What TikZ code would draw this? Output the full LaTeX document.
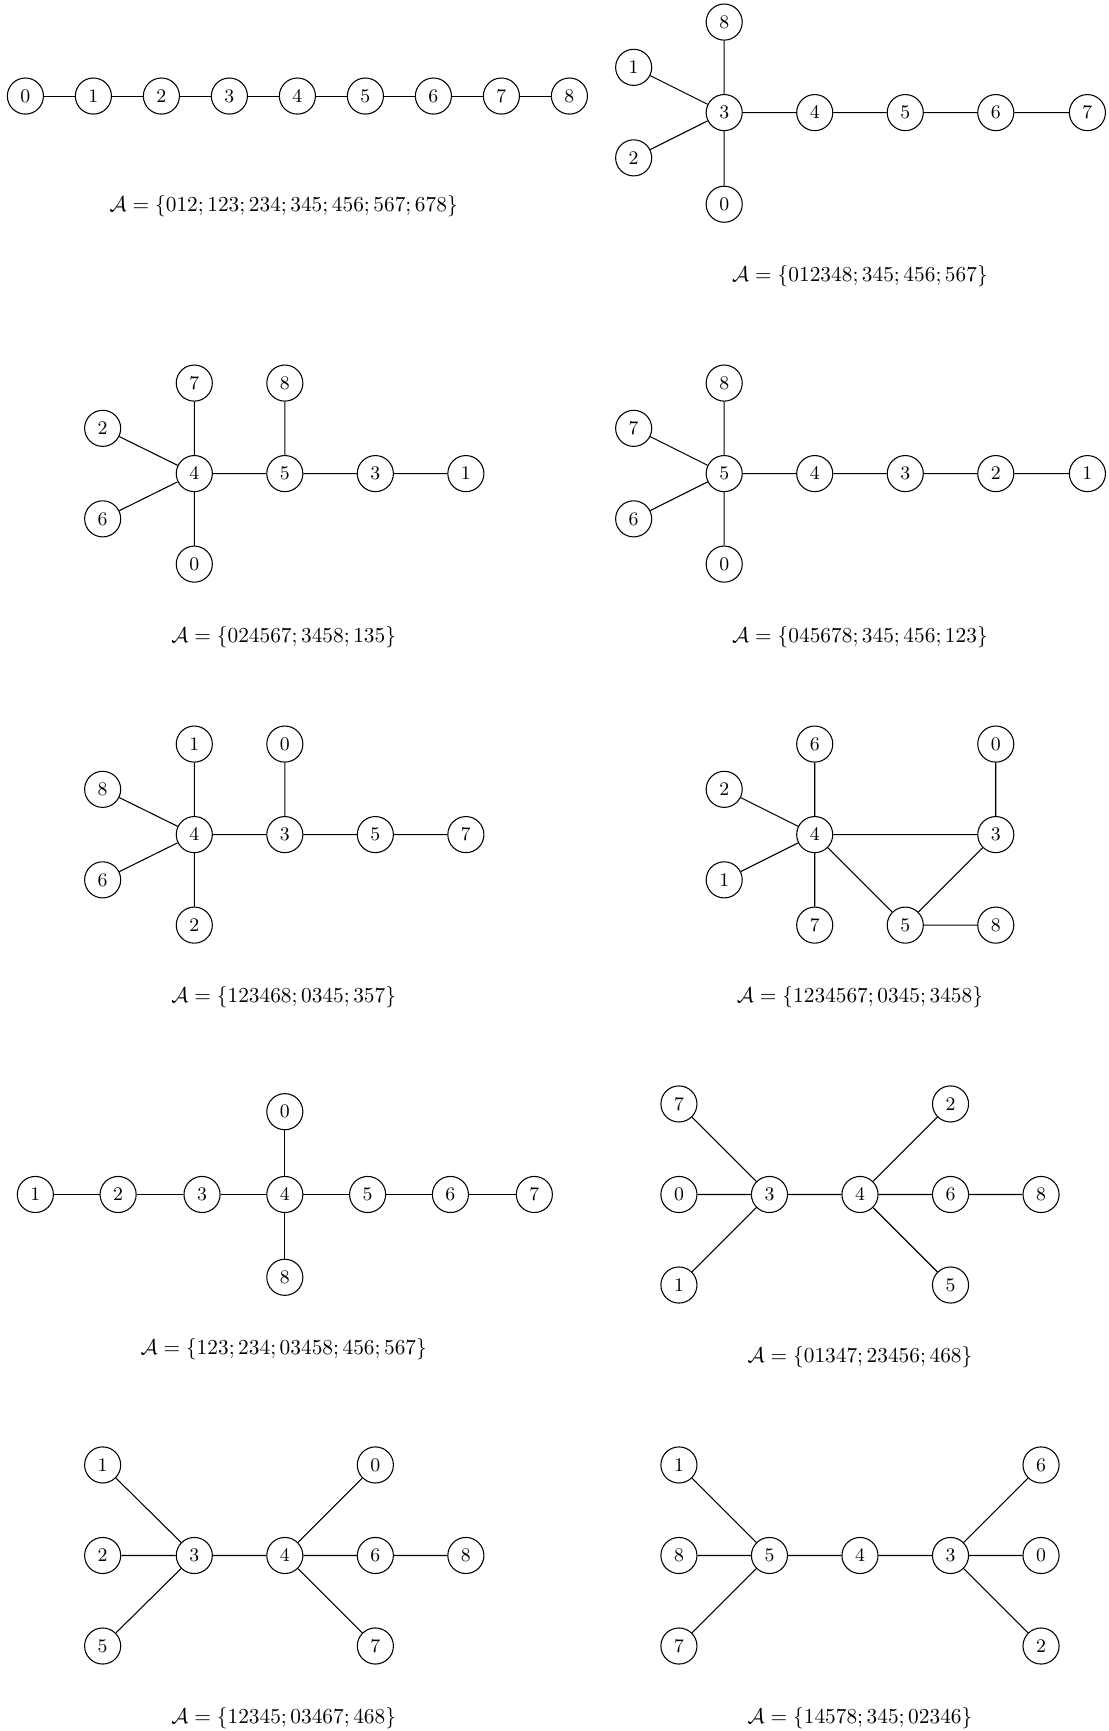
\documentclass[tikz,border=0pt]{standalone}
\begin{document}
\begin{tikzpicture}[x=0.5169pt,y=-0.5169pt,
  v/.style={circle,draw,line width=0.5pt,minimum size=16.9pt,inner sep=1pt,font=\small},
  capt/.style={inner sep=0pt},
  every path/.style={line width=0.5pt}]
\useasboundingbox (0,0) rectangle (1004,1568);
% panel a
\foreach \i in {0,...,8} {\node[v] (a\i) at ({23+61.6*\i},87) {$\i$};}
\draw (a0)--(a1) (a1)--(a2) (a2)--(a3) (a3)--(a4) (a4)--(a5) (a5)--(a6) (a6)--(a7) (a7)--(a8);
\node[capt] (ca) at (257,187) {$\mathcal{A}=\{012;123;234;345;456;567;678\}$};
% panel b
\node[v] (b3) at (656,102) {$3$};
\node[v] (b8) at (656,20) {$8$};
\node[v] (b0) at (656,185) {$0$};
\node[v] (b1) at (574,61) {$1$};
\node[v] (b2) at (574,143) {$2$};
\node[v] (b4) at (738,102) {$4$};
\node[v] (b5) at (820,102) {$5$};
\node[v] (b6) at (902,102) {$6$};
\node[v] (b7) at (985,102) {$7$};
\draw (b3)--(b8) (b3)--(b0) (b3)--(b1) (b3)--(b2) (b3)--(b4) (b4)--(b5) (b5)--(b6) (b6)--(b7);
\node[capt] (cb) at (779,250) {$\mathcal{A}=\{012348;345;456;567\}$};
% panel c
\node[v] (c4) at (176,429) {$4$};
\node[v] (c7) at (176,347) {$7$};
\node[v] (c0) at (176,511) {$0$};
\node[v] (c2) at (93,388) {$2$};
\node[v] (c6) at (93,470) {$6$};
\node[v] (c5) at (258,429) {$5$};
\node[v] (c8) at (258,347) {$8$};
\node[v] (c3) at (340,429) {$3$};
\node[v] (c1) at (422,429) {$1$};
\draw (c4)--(c7) (c4)--(c0) (c4)--(c2) (c4)--(c6) (c4)--(c5) (c5)--(c8) (c5)--(c3) (c3)--(c1);
\node[capt] (cc) at (257,577) {$\mathcal{A}=\{024567;3458;135\}$};
% panel d
\node[v] (d5) at (656,429) {$5$};
\node[v] (d8) at (656,347) {$8$};
\node[v] (d0) at (656,511) {$0$};
\node[v] (d7) at (574,388) {$7$};
\node[v] (d6) at (574,470) {$6$};
\node[v] (d4) at (738,429) {$4$};
\node[v] (d3) at (820,429) {$3$};
\node[v] (d2) at (902,429) {$2$};
\node[v] (d1) at (985,429) {$1$};
\draw (d5)--(d8) (d5)--(d0) (d5)--(d7) (d5)--(d6) (d5)--(d4) (d4)--(d3) (d3)--(d2) (d2)--(d1);
\node[capt] (cd) at (779,577) {$\mathcal{A}=\{045678;345;456;123\}$};
% panel e
\node[v] (e4) at (176,756) {$4$};
\node[v] (e1) at (176,674) {$1$};
\node[v] (e2) at (176,838) {$2$};
\node[v] (e8) at (93,715) {$8$};
\node[v] (e6) at (93,797) {$6$};
\node[v] (e3) at (258,756) {$3$};
\node[v] (e0) at (258,674) {$0$};
\node[v] (e5) at (340,756) {$5$};
\node[v] (e7) at (422,756) {$7$};
\draw (e4)--(e1) (e4)--(e2) (e4)--(e8) (e4)--(e6) (e4)--(e3) (e3)--(e0) (e3)--(e5) (e5)--(e7);
\node[capt] (ce) at (257,903) {$\mathcal{A}=\{123468;0345;357\}$};
% panel f
\node[v] (f4) at (738,756) {$4$};
\node[v] (f6) at (738,674) {$6$};
\node[v] (f7) at (738,838) {$7$};
\node[v] (f2) at (656,715) {$2$};
\node[v] (f1) at (656,797) {$1$};
\node[v] (f3) at (902,756) {$3$};
\node[v] (f0) at (902,674) {$0$};
\node[v] (f5) at (820,838) {$5$};
\node[v] (f8) at (902,838) {$8$};
\draw (f4)--(f6) (f4)--(f7) (f4)--(f2) (f4)--(f1) (f4)--(f3) (f4)--(f5) (f3)--(f5) (f3)--(f0) (f5)--(f8);
\node[capt] (cf) at (779,903) {$\mathcal{A}=\{1234567;0345;3458\}$};
% panel g
\node[v] (g1) at (32,1082) {$1$};
\node[v] (g2) at (107,1082) {$2$};
\node[v] (g3) at (183,1082) {$3$};
\node[v] (g4) at (258,1082) {$4$};
\node[v] (g5) at (333,1082) {$5$};
\node[v] (g6) at (408,1082) {$6$};
\node[v] (g7) at (484,1082) {$7$};
\node[v] (g0) at (258,1007) {$0$};
\node[v] (g8) at (258,1157) {$8$};
\draw (g1)--(g2) (g2)--(g3) (g3)--(g4) (g4)--(g5) (g5)--(g6) (g6)--(g7) (g4)--(g0) (g4)--(g8);
\node[capt] (cg) at (257,1222) {$\mathcal{A}=\{123;234;03458;456;567\}$};
% panel h
\node[v] (h3) at (697,1082) {$3$};
\node[v] (h7) at (615,1000) {$7$};
\node[v] (h0) at (615,1082) {$0$};
\node[v] (h1) at (615,1164) {$1$};
\node[v] (h4) at (779,1082) {$4$};
\node[v] (h2) at (861,1000) {$2$};
\node[v] (h6) at (861,1082) {$6$};
\node[v] (h5) at (861,1164) {$5$};
\node[v] (h8) at (943,1082) {$8$};
\draw (h3)--(h7) (h3)--(h0) (h3)--(h1) (h3)--(h4) (h4)--(h2) (h4)--(h6) (h4)--(h5) (h6)--(h8);
\node[capt] (ch) at (779,1229) {$\mathcal{A}=\{01347;23456;468\}$};
% panel i
\node[v] (i3) at (176,1409) {$3$};
\node[v] (i1) at (93,1327) {$1$};
\node[v] (i2) at (93,1409) {$2$};
\node[v] (i5) at (93,1491) {$5$};
\node[v] (i4) at (258,1409) {$4$};
\node[v] (i0) at (340,1327) {$0$};
\node[v] (i6) at (340,1409) {$6$};
\node[v] (i7) at (340,1491) {$7$};
\node[v] (i8) at (422,1409) {$8$};
\draw (i3)--(i1) (i3)--(i2) (i3)--(i5) (i3)--(i4) (i4)--(i0) (i4)--(i6) (i4)--(i7) (i6)--(i8);
\node[capt] (ci) at (257,1556) {$\mathcal{A}=\{12345;03467;468\}$};
% panel j
\node[v] (j5) at (697,1409) {$5$};
\node[v] (j1) at (615,1327) {$1$};
\node[v] (j8) at (615,1409) {$8$};
\node[v] (j7) at (615,1491) {$7$};
\node[v] (j4) at (779,1409) {$4$};
\node[v] (j3) at (861,1409) {$3$};
\node[v] (j6) at (943,1327) {$6$};
\node[v] (j0) at (943,1409) {$0$};
\node[v] (j2) at (943,1491) {$2$};
\draw (j5)--(j1) (j5)--(j8) (j5)--(j7) (j5)--(j4) (j4)--(j3) (j3)--(j6) (j3)--(j0) (j3)--(j2);
\node[capt] (cj) at (779,1556) {$\mathcal{A}=\{14578;345;02346\}$};
\end{tikzpicture}
\end{document}
